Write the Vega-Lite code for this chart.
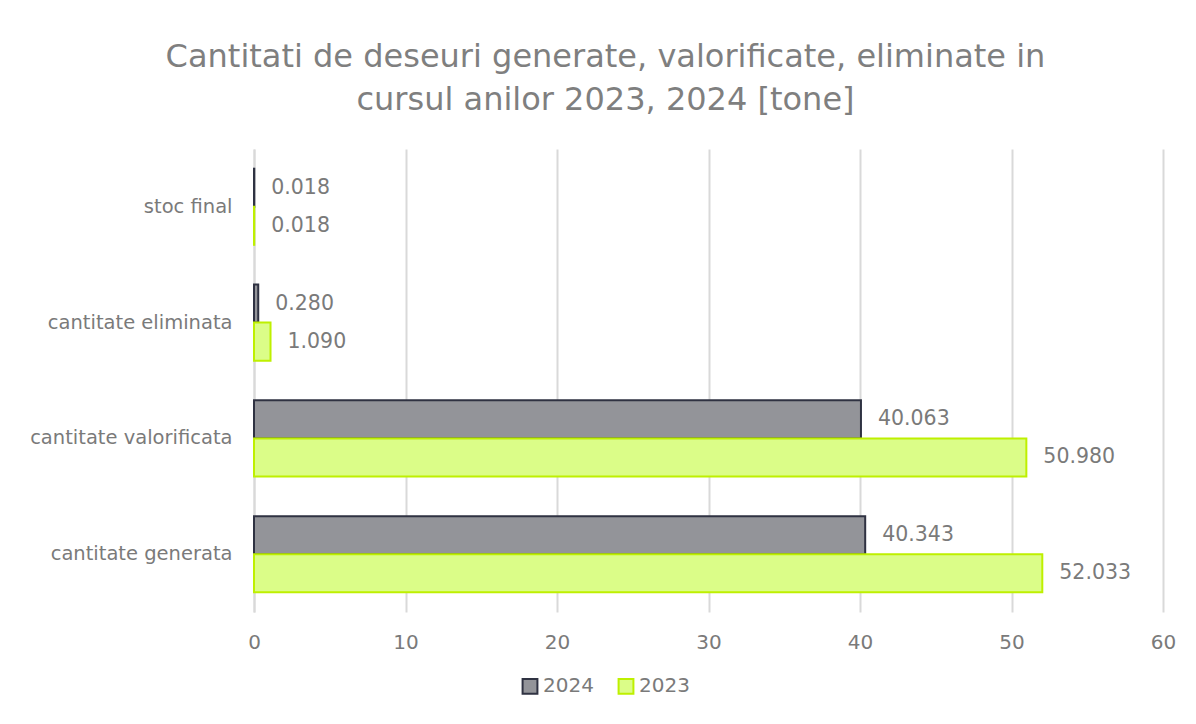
{
  "$schema": "https://vega.github.io/schema/vega-lite/v6.json",
  "width": 909,
  "height": 463,
  "padding": {"left": 10, "top": 41, "right": 20, "bottom": 10},
  "background": "white",
  "title": {
    "text": ["Cantitati de deseuri generate, valorificate, eliminate in", "cursul anilor 2023, 2024 [tone]"],
    "anchor": "middle",
    "frame": "group",
    "dx": -103,
    "offset": 32,
    "font": "DejaVu Sans",
    "fontSize": 32,
    "fontWeight": "normal",
    "lineHeight": 43,
    "color": "#7f7f7f"
  },
  "data": {
    "values": [
      {"category": "cantitate generata", "year": "2024", "value": 40.343},
      {"category": "cantitate generata", "year": "2023", "value": 52.033},
      {"category": "cantitate valorificata", "year": "2024", "value": 40.063},
      {"category": "cantitate valorificata", "year": "2023", "value": 50.98},
      {"category": "cantitate eliminata", "year": "2024", "value": 0.28},
      {"category": "cantitate eliminata", "year": "2023", "value": 1.09},
      {"category": "stoc final", "year": "2024", "value": 0.018},
      {"category": "stoc final", "year": "2023", "value": 0.018}
    ]
  },
  "encoding": {
    "y": {
      "field": "category",
      "type": "nominal",
      "sort": ["stoc final", "cantitate eliminata", "cantitate valorificata", "cantitate generata"],
      "scale": {"paddingInner": 0.343, "paddingOuter": 0.17},
      "axis": {
        "title": null,
        "ticks": false,
        "domain": true,
        "domainColor": "#d9d9d9",
        "domainWidth": 2,
        "labelFont": "DejaVu Sans",
        "labelFontSize": 19.5,
        "labelColor": "#7a7a7a",
        "labelPadding": 22,
        "labelLimit": 400,
        "minExtent": 244,
        "maxExtent": 244,
        "grid": false
      }
    },
    "yOffset": {"field": "year", "type": "nominal", "sort": ["2024", "2023"]},
    "x": {
      "field": "value",
      "type": "quantitative",
      "scale": {"domain": [0, 60], "nice": false},
      "axis": {
        "title": null,
        "values": [0, 10, 20, 30, 40, 50, 60],
        "ticks": false,
        "domain": false,
        "grid": true,
        "gridColor": "#d9d9d9",
        "gridWidth": 2,
        "labelFlush": false,
        "labelFont": "DejaVu Sans",
        "labelFontSize": 20,
        "labelColor": "#7a7a7a",
        "labelPadding": 20
      }
    }
  },
  "layer": [
    {
      "mark": {"type": "bar", "strokeWidth": 2},
      "encoding": {
        "fill": {
          "field": "year",
          "type": "nominal",
          "scale": {"domain": ["2024", "2023"], "range": ["#939499", "#dbfd88"]},
          "legend": {
            "title": null,
            "orient": "none",
            "direction": "horizontal",
            "legendX": 266,
            "legendY": 527,
            "symbolType": "square",
            "symbolSize": 220,
            "symbolStrokeWidth": 2,
            "labelFont": "DejaVu Sans",
            "labelFontSize": 20,
            "labelColor": "#7a7a7a",
            "labelOffset": 3,
            "columnPadding": 20
          }
        },
        "stroke": {
          "field": "year",
          "type": "nominal",
          "scale": {"domain": ["2024", "2023"], "range": ["#2f3242", "#bef000"]},
          "legend": {
            "title": null,
            "orient": "none",
            "direction": "horizontal",
            "legendX": 266,
            "legendY": 527,
            "symbolType": "square",
            "symbolSize": 220,
            "symbolStrokeWidth": 2,
            "labelFont": "DejaVu Sans",
            "labelFontSize": 20,
            "labelColor": "#7a7a7a",
            "labelOffset": 3,
            "columnPadding": 20
          }
        }
      }
    },
    {
      "mark": {"type": "text", "align": "left", "baseline": "middle", "dx": 17, "font": "DejaVu Sans", "fontSize": 20.5, "color": "#7a7a7a"},
      "encoding": {
        "text": {"field": "value", "type": "quantitative", "format": ".3f"}
      }
    }
  ],
  "config": {
    "view": {"stroke": null}
  }
}
